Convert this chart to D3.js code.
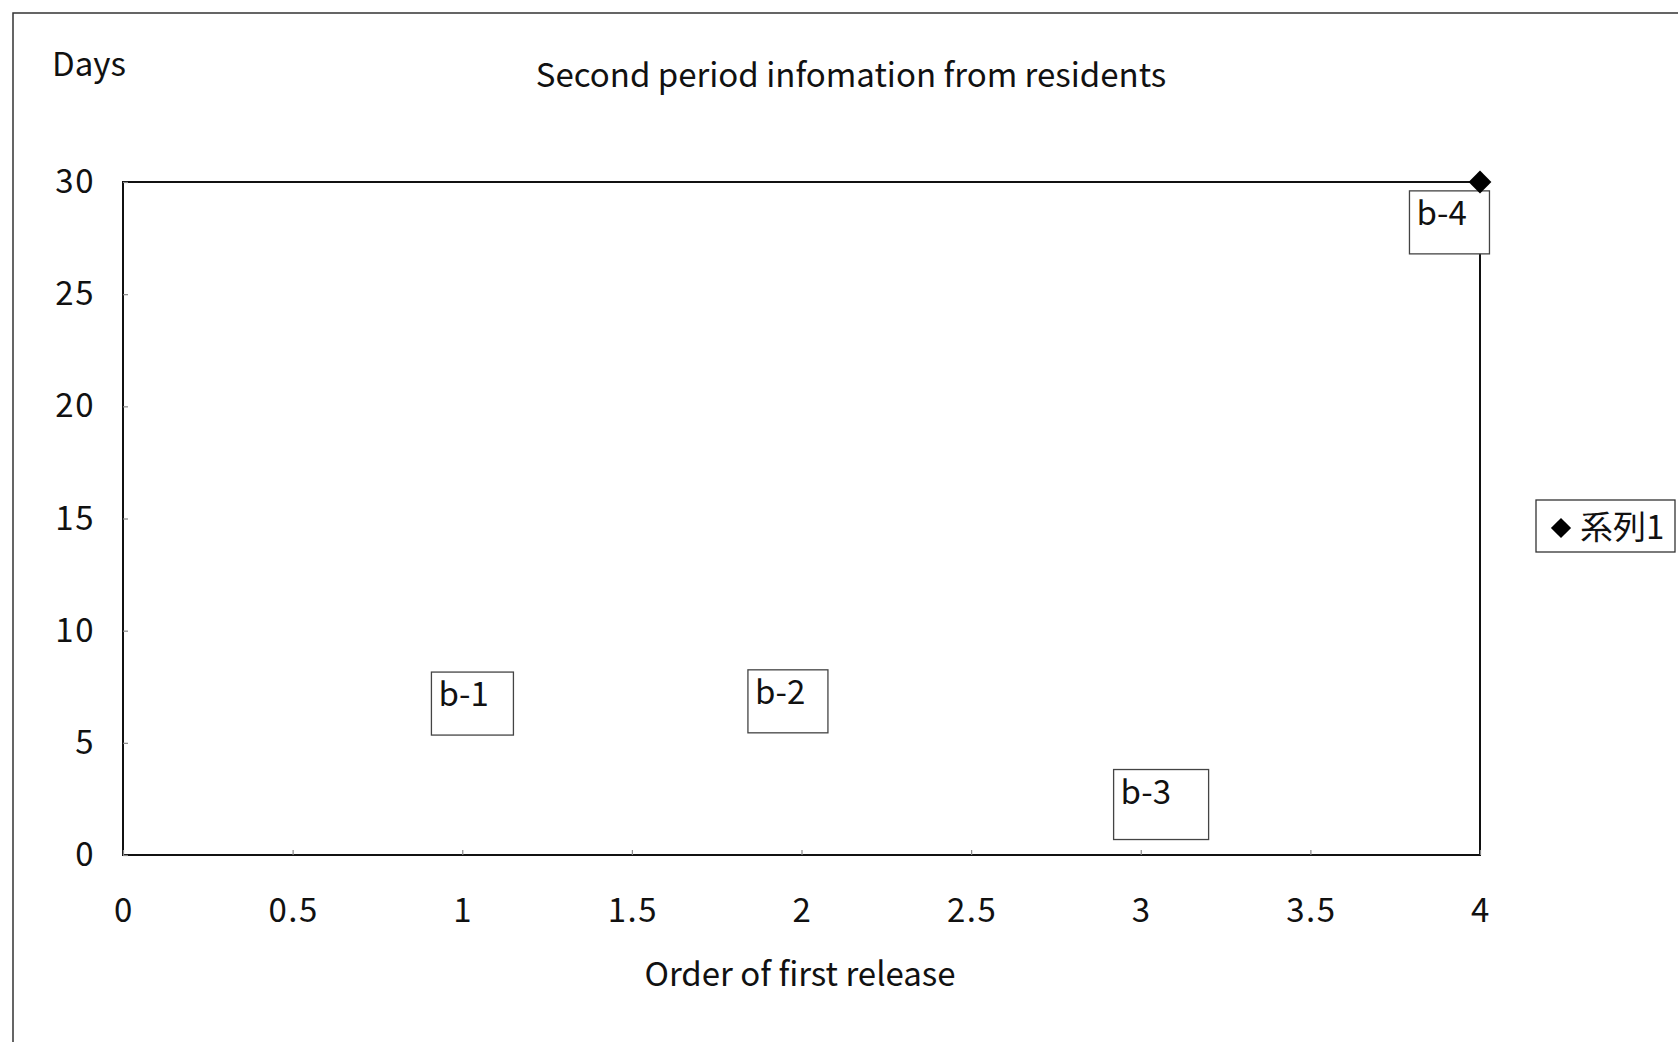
<!DOCTYPE html>
<html>
<head>
<meta charset="utf-8">
<script src="https://cdn.jsdelivr.net/npm/d3@7"></script>
<style>
  body { margin: 0; background: #fff; }
  svg { display: block; font-family: "Noto Sans CJK JP", "Noto Sans", sans-serif; }
</style>
</head>
<body>
<div id="chart"></div>
<script>
// series 1 (visible markers)
const orders = [4];
const days = [30];

// data label boxes, anchored in data units
const labelNames = ["b-1", "b-2", "b-3", "b-4"];
const labelOrders = [1.03, 1.96, 3.06, 3.91];
const labelDays = [6.75, 6.85, 2.25, 28.2];

const xTicks = [0, 0.5, 1, 1.5, 2, 2.5, 3, 3.5, 4];
const yTicks = [0, 5, 10, 15, 20, 25, 30];

const width = 1678, height = 1042;
const margin = {top: 182, right: 198, bottom: 187, left: 123};
const fs = 33;
// box sizes for the label boxes (layout, not data)
const boxW = {"b-1": 82, "b-2": 80, "b-3": 95, "b-4": 80};
const boxH = {"b-1": 63, "b-2": 63, "b-3": 70, "b-4": 63};

const svg = d3.select("#chart").append("svg")
    .attr("width", width)
    .attr("height", height);

// outer chart frame (cut off at right/bottom like the scan)
svg.append("rect")
    .attr("x", 13).attr("y", 13)
    .attr("width", width + 20).attr("height", height + 20)
    .attr("fill", "none")
    .attr("stroke", "#333")
    .attr("stroke-width", 1.5);

const x = d3.scaleLinear().domain([0, 4]).range([margin.left, width - margin.right]);
const y = d3.scaleLinear().domain([0, 30]).range([height - margin.bottom, margin.top]);

// plot area
svg.append("rect")
    .attr("x", x(0)).attr("y", y(30))
    .attr("width", x(4) - x(0)).attr("height", y(0) - y(30))
    .attr("fill", "none")
    .attr("stroke", "#111")
    .attr("stroke-width", 2);

// axes: tiny inside ticks
const xAxis = svg.append("g")
    .attr("transform", `translate(0,${y(0)})`)
    .call(d3.axisTop(x).tickValues(xTicks).tickSize(5).tickFormat(""));
const yAxis = svg.append("g")
    .attr("transform", `translate(${x(0)},0)`)
    .call(d3.axisRight(y).tickValues(yTicks).tickSize(5).tickFormat(""));
[xAxis, yAxis].forEach(a => {
  a.select(".domain").remove();
  a.selectAll(".tick line").attr("stroke", "#888").attr("stroke-width", 1.2);
});

svg.append("g").selectAll("text")
    .data(xTicks)
    .enter().append("text")
    .attr("x", d => x(d) + 1)
    .attr("y", 922)
    .attr("text-anchor", "middle")
    .attr("font-size", fs)
    .attr("letter-spacing", 1.5)
    .attr("fill", "#111")
    .text(d => d);

svg.append("g").selectAll("text")
    .data(yTicks)
    .enter().append("text")
    .attr("x", 95)
    .attr("y", d => y(d) + 11)
    .attr("text-anchor", "end")
    .attr("font-size", fs)
    .attr("letter-spacing", 1.5)
    .attr("fill", "#111")
    .text(d => d);

// titles
svg.append("text")
    .attr("x", 851).attr("y", 87)
    .attr("text-anchor", "middle")
    .attr("font-size", fs)
    .attr("fill", "#111")
    .text("Second period infomation from residents");

svg.append("text")
    .attr("x", 52).attr("y", 76)
    .attr("font-size", fs)
    .attr("fill", "#111")
    .text("Days");

svg.append("text")
    .attr("x", 800).attr("y", 986)
    .attr("text-anchor", "middle")
    .attr("font-size", fs)
    .attr("fill", "#111")
    .text("Order of first release");

// label boxes
const lab = svg.append("g").selectAll("g")
    .data(labelNames)
    .enter().append("g")
    .attr("transform", (d, i) => `translate(${x(labelOrders[i]) - boxW[d] / 2},${y(labelDays[i]) - boxH[d] / 2})`);
lab.append("rect")
    .attr("width", d => boxW[d])
    .attr("height", d => boxH[d])
    .attr("fill", "#fff")
    .attr("stroke", "#444")
    .attr("stroke-width", 1.3);
lab.append("text")
    .attr("x", 7).attr("y", 34)
    .attr("font-size", fs)
    .attr("fill", "#111")
    .text(d => d);

// markers
const diamond = d3.symbol().type(d3.symbolDiamond2).size(330);
svg.append("g").selectAll("path")
    .data(orders)
    .enter().append("path")
    .attr("d", diamond)
    .attr("transform", (d, i) => `translate(${x(d)},${y(days[i])})`)
    .attr("fill", "#000");

// legend
const legend = svg.append("g").attr("transform", "translate(1536,500)");
legend.append("rect")
    .attr("width", 139).attr("height", 52)
    .attr("fill", "#fff")
    .attr("stroke", "#333")
    .attr("stroke-width", 1.3);
legend.append("path")
    .attr("d", d3.symbol().type(d3.symbolDiamond2).size(260))
    .attr("transform", "translate(25,28)")
    .attr("fill", "#000");
legend.append("text")
    .attr("x", 44).attr("y", 39)
    .attr("font-size", fs)
    .attr("fill", "#111")
    .text("系列1");
</script>
</body>
</html>
